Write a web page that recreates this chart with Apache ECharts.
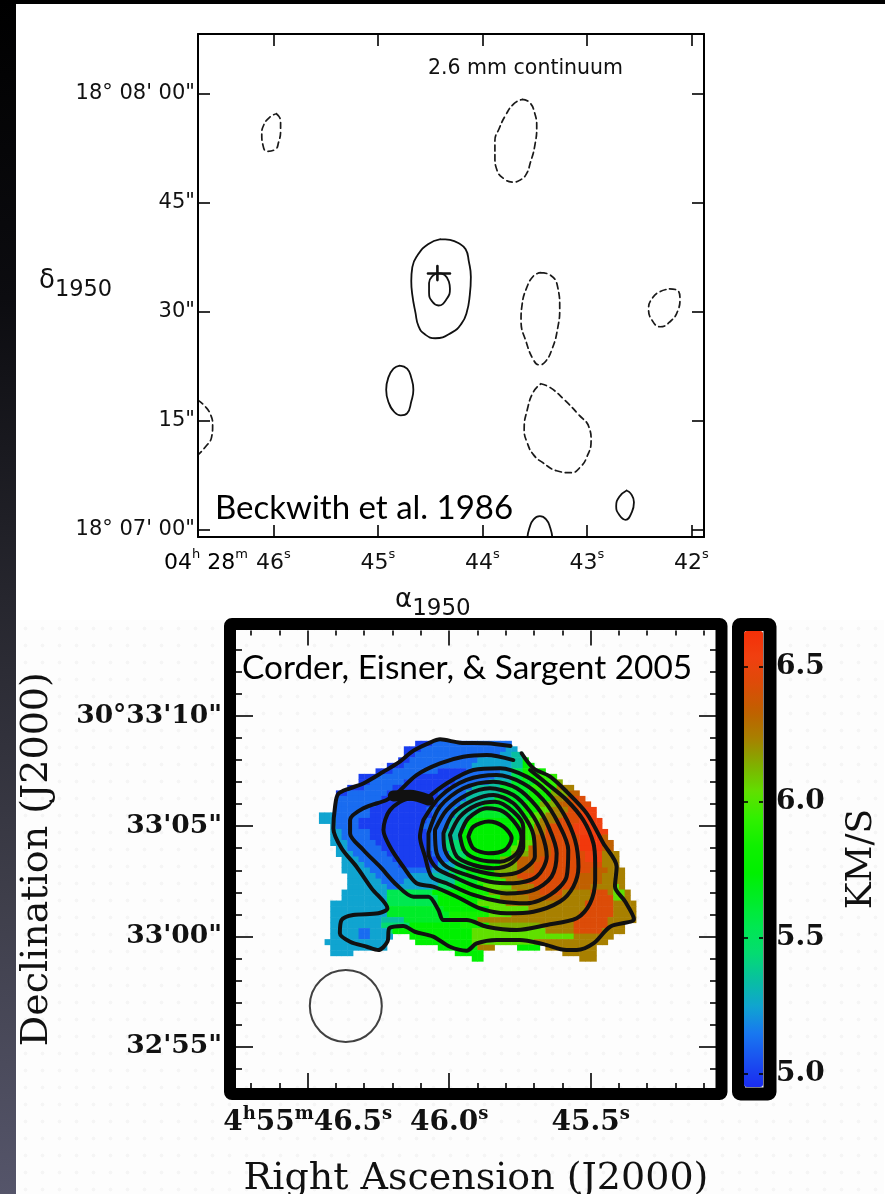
<!DOCTYPE html>
<html><head><meta charset="utf-8">
<style>
html,body{margin:0;padding:0;width:885px;height:1194px;overflow:hidden;background:linear-gradient(180deg,#000 0%,#0c0c10 25%,#26262e 50%,#3e3e4a 75%,#55556a 100%);}
#panel{position:absolute;left:16px;top:4px;width:869px;height:1190px;background:#fff;}
#panel2{position:absolute;left:17px;top:620px;width:867px;height:574px;background-color:#fdfdfd;background-image:radial-gradient(circle,#f5f5f5 1.6px,transparent 2.2px);background-size:17px 17px;}
#c{position:absolute;left:0;top:0;width:885px;height:1194px;}
</style>
<script src="https://cdn.jsdelivr.net/npm/echarts@6/dist/echarts.min.js"></script>
</head><body><div id="panel"></div><div id="panel2"></div><div id="c"></div>
<script>
// ---------- Beckwith et al. 1986: RA seconds (04h 28m), Dec arcsec past 18 deg 07' 00"
const raTicks1950 = [46, 45, 44, 43, 42];
const decTicks1950 = [0, 15, 30, 45, 60];
const decLabels1950 = {0: '18° 07\' 00"', 15: '15"', 30: '30"', 45: '45"', 60: '18° 08\' 00"'};
const dashedA = [[45.97,57.29],[45.93,56.31],[45.93,54.95],[45.95,53.32],[45.98,52.39],[46.06,52.12],[46.10,53.05],[46.11,54.41],[46.09,55.77],[46.03,56.86],[45.97,57.29]];
const dashedB = [[43.62,59.25],[43.55,58.87],[43.50,57.4],[43.48,55.5],[43.50,52.77],[43.54,50.6],[43.58,48.97],[43.64,48.15],[43.71,47.88],[43.79,48.31],[43.86,49.51],[43.88,51.41],[43.88,53.59],[43.84,55.22],[43.78,57.02],[43.70,58.65],[43.62,59.25]];
const solidC = [[44.40,40.04],[44.31,39.93],[44.23,39.5],[44.16,38.63],[44.13,37.0],[44.11,34.82],[44.12,32.37],[44.15,29.92],[44.20,28.4],[44.29,27.2],[44.45,26.39],[44.55,26.93],[44.61,28.02],[44.64,29.92],[44.67,32.37],[44.68,34.28],[44.67,36.18],[44.62,37.81],[44.52,39.34],[44.40,40.04]];
const solidD = [[44.42,35.36],[44.36,35.09],[44.32,34.17],[44.31,33.19],[44.34,31.83],[44.42,30.9],[44.48,31.45],[44.51,32.64],[44.51,34.0],[44.47,35.04],[44.42,35.36]];
const crossH = [[44.52,35.31],[44.31,35.31]];
const crossV = [[44.43,36.34],[44.43,34.39]];
const dashedE = [[43.44,35.42],[43.35,35.09],[43.28,33.46],[43.26,30.47],[43.28,27.75],[43.33,25.03],[43.40,23.12],[43.46,22.74],[43.51,23.39],[43.58,25.84],[43.63,28.84],[43.62,31.01],[43.58,33.19],[43.51,34.98],[43.44,35.42]];
const dashedF = [[42.21,33.19],[42.14,33.03],[42.11,31.83],[42.13,30.2],[42.20,28.73],[42.30,27.97],[42.38,28.94],[42.41,30.47],[42.37,31.99],[42.30,32.81],[42.21,33.19]];
const solidG = [[44.79,22.63],[44.72,22.2],[44.68,20.95],[44.66,19.31],[44.68,17.68],[44.72,16.05],[44.78,15.78],[44.84,16.21],[44.90,17.68],[44.92,19.31],[44.90,20.95],[44.85,22.2],[44.79,22.63]];
const dashedH = [[46.72,17.85],[46.66,17.14],[46.60,15.89],[46.58,14.42],[46.59,12.79],[46.65,11.43],[46.72,10.34]];
const dashedI = [[43.44,20.13],[43.35,19.59],[43.21,17.85],[43.08,15.89],[42.98,14.15],[42.96,12.24],[43.00,10.07],[43.06,8.71],[43.15,7.89],[43.29,8.16],[43.42,9.25],[43.51,10.34],[43.57,11.97],[43.60,13.87],[43.57,16.59],[43.51,19.04],[43.44,20.13]];
const solidJ = [[42.62,5.44],[42.58,5.01],[42.55,3.81],[42.57,2.45],[42.63,1.41],[42.69,2.07],[42.72,3.26],[42.69,4.57],[42.62,5.44]];
const solidK = [[43.57,-1.09],[43.55,0.27],[43.51,1.47],[43.45,1.90],[43.39,1.47],[43.35,0.27],[43.33,-1.09]];

// ---------- Corder, Eisner & Sargent 2005: RA seconds (4h 55m), Dec arcsec past 30 deg 33' 00"
const raMajor2000 = [46.5, 46.0, 45.5];
const raMinor2000 = [46.7,46.6,46.4,46.3,46.2,46.1,45.9,45.8,45.7,45.6,45.4,45.3,45.2,45.1];
const decMajor2000 = [-5, 0, 5, 10];
const decMinor2000 = [-6,-4,-3,-2,-1,1,2,3,4,6,7,8,9,11,12,13];
const decLabels2000 = {'-5': '32\'55"', 0: '33\'00"', 5: '33\'05"', 10: '30°33\'10"'};
const velocityTicks = [5.0, 5.5, 6.0, 6.5];

const mapRaFirst = 46.45, mapRaStep = 0.02, mapDecFirst = 8.75, mapDecStep = 0.25;
// One row per declination step: "firstColumn-lastColumn:velocity (km/s)"
const velocityRows = [
"17-19:5.0 20-33:5.12",
"15-17:5.0 18-32:5.12 33-34:5.25",
"15-16:5.0 17-31:5.12 32-33:5.25 34-35:5.35",
"14-15:5.0 16-27:5.12 28-33:5.25 34-35:5.35 36-36:5.75",
"12-14:5.0 15-26:5.12 27-33:5.25 34-35:5.35 36-37:5.75",
"10-12:5.0 13-20:5.12 21-25:5.0 26-31:5.12 32-33:5.25 34-35:5.55 36-39:5.85",
"7-9:5.0 10-16:5.12 17-24:5.0 25-30:5.12 31-33:5.25 34-35:5.55 36-38:5.85 39-41:5.95",
"7-8:5.0 9-14:5.12 15-23:5.0 24-29:5.12 30-33:5.35 34-37:5.65 38-41:5.95 42-42:6.15",
"5-7:5.0 8-12:5.12 13-22:5.0 23-26:5.12 27-31:5.35 32-36:5.65 37-41:5.95 42-44:6.25",
"3-4:5.0 5-11:5.12 12-20:5.0 21-25:5.12 26-31:5.35 32-36:5.65 37-40:5.85 41-43:6.15 44-45:6.35",
"3-10:5.12 11-20:5.0 21-25:5.12 26-30:5.35 31-36:5.65 37-40:5.85 41-43:6.25 44-46:6.45",
"3-9:5.12 10-20:5.0 21-24:5.12 25-28:5.35 29-35:5.65 36-38:5.85 39-41:6.15 42-44:6.35 45-47:6.45",
"3-8:5.12 9-18:5.0 19-23:5.12 24-27:5.35 28-35:5.65 36-38:5.85 39-40:6.05 41-43:6.25 44-46:6.45 47-48:6.55",
"0-2:5.25 3-8:5.12 9-19:5.0 20-23:5.12 24-26:5.35 27-35:5.65 36-37:5.85 38-39:6.05 40-42:6.25 43-45:6.45 46-48:6.55",
"0-2:5.25 3-6:5.12 7-18:5.0 19-22:5.12 23-25:5.35 26-35:5.75 36-36:5.85 37-38:6.05 39-41:6.25 42-45:6.45 46-49:6.55",
"2-2:5.25 3-6:5.12 7-17:5.0 18-22:5.12 23-25:5.35 26-35:5.75 36-37:5.95 38-39:6.25 40-44:6.45 45-49:6.55",
"2-3:5.25 4-8:5.12 9-18:5.0 19-21:5.12 22-24:5.35 25-35:5.75 36-37:5.95 38-39:6.25 40-44:6.45 45-50:6.55",
"2-3:5.25 4-8:5.12 9-18:5.0 19-21:5.12 22-24:5.35 25-35:5.75 36-37:5.95 38-39:6.35 40-45:6.45 46-49:6.6 50-50:6.35",
"2-4:5.25 5-9:5.12 10-18:5.0 19-21:5.12 22-24:5.45 25-34:5.75 35-37:6.05 38-40:6.35 41-45:6.45 46-49:6.6 50-51:6.35",
"3-4:5.25 5-10:5.12 11-18:5.0 19-21:5.12 22-24:5.45 25-33:5.75 34-36:6.05 37-40:6.35 41-45:6.45 46-49:6.6 50-51:6.35",
"3-5:5.25 6-11:5.12 12-19:5.0 20-22:5.12 23-25:5.45 26-33:5.75 34-36:6.15 37-40:6.35 41-46:6.45 47-49:6.55 50-52:6.25",
"4-6:5.25 7-12:5.12 13-20:5.0 21-22:5.12 23-25:5.55 26-31:5.75 32-34:6.15 35-38:6.35 39-46:6.45 47-49:6.55 50-52:6.25",
"4-7:5.25 8-13:5.12 14-20:5.0 21-23:5.25 24-26:5.55 27-31:5.75 32-34:6.15 35-37:6.35 38-49:6.45 50-52:6.25",
"4-8:5.25 9-19:5.12 20-22:5.25 23-25:5.55 26-30:5.75 31-34:6.15 35-37:6.35 38-47:6.45 48-50:6.35 51-53:6.25",
"5-9:5.25 10-15:5.12 16-19:5.25 20-23:5.35 24-27:5.65 28-31:5.85 32-34:6.25 35-45:6.45 46-49:6.35 50-53:6.25",
"5-10:5.25 11-14:5.12 15-20:5.25 21-23:5.35 24-27:5.65 28-32:5.95 33-35:6.25 36-44:6.45 45-49:6.35 50-53:6.25",
"5-11:5.25 12-13:5.12 14-20:5.25 21-23:5.45 24-28:5.75 29-33:6.05 34-37:6.25 38-44:6.45 45-47:6.35 48-51:6.25 52-52:6.05 53-53:6.25",
"4-11:5.25 12-19:5.55 20-24:5.75 25-29:5.85 30-34:6.15 35-38:6.35 39-42:6.45 43-47:6.25 48-50:6.45 51-51:6.25 52-53:6.05 54-54:6.25",
"4-11:5.25 12-20:5.55 21-27:5.75 28-31:5.95 32-36:6.25 37-42:6.35 43-47:6.25 48-51:6.45 52-53:6.05 54-54:6.25",
"2-11:5.25 12-20:5.55 21-27:5.75 28-32:6.05 33-46:6.25 47-51:6.45 52-55:6.25",
"2-11:5.25 12-21:5.65 22-29:5.75 30-36:6.05 37-46:6.25 47-51:6.45 52-55:6.25",
"2-11:5.25 12-22:5.65 23-29:5.85 30-33:6.05 34-45:6.25 46-51:6.45 52-55:6.25",
"2-10:5.25 11-14:5.35 15-22:5.65 23-27:5.85 28-44:6.25 45-50:6.45 51-55:6.25",
"2-10:5.25 11-15:5.45 16-24:5.75 25-29:5.85 30-38:6.15 39-44:6.25 45-50:6.45 51-53:6.25",
"2-6:5.25 7-8:5.12 9-11:5.25 12-12:5.45 13-26:5.75 27-39:6.05 40-44:6.25 45-49:6.45 50-53:6.25",
"2-6:5.25 7-8:5.12 9-12:5.25 16-26:5.75 27-44:6.05 45-51:6.25",
"1-11:5.25 17-26:5.75 27-37:6.05 38-50:6.25",
"2-11:5.25 21-27:5.75 28-30:6.25 35-38:5.75 40-48:6.25",
"2-5:5.25 24-28:5.75 43-48:6.25",
"27-28:5.75 46-48:6.25"
];
const velocityColors = ['#1a2cf0','#1a50f0','#1878f0','#10a4d0','#08c0a0','#04dc70','#00e850','#00ec28','#00f000','#10f000','#30f000','#60e000','#80b000','#a88000','#c06000','#dc4c08','#f04010','#f43008'];

const contour1 = [[45.783,8.64],[45.867,8.76],[45.962,8.79],[46.032,8.94],[46.073,8.76],[46.126,8.43],[46.174,7.93],[46.232,7.47],[46.303,6.94],[46.350,6.72],[46.392,6.46],[46.403,5.89],[46.409,4.90],[46.380,4.00],[46.327,3.16],[46.274,2.18],[46.218,1.27],[46.250,1.05],[46.339,0.97],[46.380,0.74],[46.386,0.14],[46.350,-0.24],[46.291,-0.47],[46.250,-0.62],[46.218,-0.24],[46.211,0.37],[46.162,0.47],[46.121,0.21],[46.056,-0.01],[45.997,-0.47],[45.938,-0.65],[45.903,-0.32],[45.832,-0.16],[45.750,-0.16],[45.667,-0.35],[45.585,-0.62],[45.549,-0.62],[45.490,-0.32],[45.431,0.44],[45.347,0.79],[45.378,1.58],[45.414,2.26],[45.408,3.16],[45.455,4.22],[45.514,5.58],[45.585,6.57],[45.643,7.25],[45.702,7.63],[45.744,8.31]];
const contour2 = [[45.773,8.00],[45.867,8.23],[45.950,8.15],[46.032,7.85],[46.115,7.32],[46.185,6.49],[46.221,6.19],[46.303,5.81],[46.350,5.28],[46.350,4.68],[46.303,3.92],[46.244,3.16],[46.185,2.33],[46.126,1.80],[46.073,1.80],[46.038,1.20],[46.020,0.74],[45.938,0.74],[45.867,0.44],[45.761,0.29],[45.655,0.52],[45.549,0.82],[45.502,1.50],[45.484,2.56],[45.484,3.31],[45.490,4.22],[45.526,5.28],[45.585,6.19],[45.655,6.94],[45.714,7.55]];
const contour3 = [[46.079,6.26],[46.009,6.94],[45.914,7.55],[45.820,7.63],[45.726,7.25],[45.655,6.57],[45.596,5.58],[45.555,4.37],[45.543,3.16],[45.561,2.26],[45.608,1.58],[45.702,1.12],[45.797,1.05],[45.891,1.27],[45.973,1.80],[46.056,2.26],[46.115,2.41],[46.162,3.16],[46.209,4.07],[46.232,4.83],[46.209,5.73],[46.138,6.26],[46.079,6.26]];
const contour4 = [[46.091,5.28],[46.032,6.34],[45.938,7.10],[45.832,7.32],[45.738,6.94],[45.667,6.19],[45.614,5.13],[45.579,3.92],[45.585,2.71],[45.643,1.88],[45.726,1.50],[45.820,1.58],[45.914,1.88],[46.009,2.41],[46.062,2.71],[46.085,3.62],[46.103,4.52],[46.091,5.28]];
const contour5 = [[46.073,4.68],[46.032,5.89],[45.950,6.72],[45.844,7.02],[45.761,6.72],[45.691,5.89],[45.649,4.98],[45.620,3.77],[45.638,2.71],[45.702,2.10],[45.797,1.95],[45.903,2.26],[45.985,2.71],[46.044,3.09],[46.073,3.77],[46.073,4.68]];
const contour6 = [[46.050,4.83],[46.009,5.73],[45.938,6.42],[45.856,6.72],[45.773,6.42],[45.714,5.66],[45.673,4.68],[45.655,3.62],[45.691,2.71],[45.773,2.41],[45.856,2.48],[45.938,2.79],[46.009,3.16],[46.044,3.77],[46.050,4.83]];
const contour7 = [[46.020,4.68],[45.985,5.58],[45.914,6.19],[45.844,6.42],[45.773,6.04],[45.726,5.28],[45.702,4.60],[45.697,3.62],[45.750,2.94],[45.820,2.79],[45.914,3.01],[45.985,3.39],[46.015,3.92],[46.020,4.68]];
const contour8 = [[45.997,4.60],[45.962,5.43],[45.903,5.96],[45.838,6.11],[45.773,5.66],[45.738,4.98],[45.738,4.07],[45.779,3.31],[45.844,3.09],[45.914,3.24],[45.973,3.62],[45.997,4.60]];
const contour9 = [[45.962,4.60],[45.932,5.36],[45.867,5.81],[45.808,5.66],[45.761,5.05],[45.744,4.52],[45.761,3.77],[45.820,3.39],[45.891,3.47],[45.944,3.84],[45.962,4.60]];
const contour10 = [[45.932,4.52],[45.914,4.98],[45.861,5.21],[45.808,4.98],[45.779,4.45],[45.803,3.92],[45.861,3.77],[45.914,3.99],[45.932,4.52]];
const contourBlob = [[46.197,6.37],[46.138,6.40],[46.073,6.19]];
const beamCentre = [[46.365,-3.158]];

// ---------- decode the map table
const velocityCells = [];
velocityRows.forEach((row, j) => {
  row.split(' ').forEach(run => {
    const [span, v] = run.split(':');
    const [a, b] = span.split('-').map(Number);
    for (let i = a; i <= b; i++) {
      velocityCells.push([+(mapRaFirst - i * mapRaStep).toFixed(3), +(mapDecFirst - j * mapDecStep).toFixed(3), +v]);
    }
  });
});

const ink = '#111';
const sans = 'DejaVu Sans';
const serif = 'DejaVu Serif';
const topLabelRich = {
  n: {fontFamily: sans, fontSize: 22, color: ink, lineHeight: 26, verticalAlign: 'bottom'},
  s: {fontFamily: sans, fontSize: 13, color: ink, verticalAlign: 'top'}
};
const botLabelRich = {
  n: {fontFamily: serif, fontWeight: 'bold', fontSize: 28, color: ink, lineHeight: 32, verticalAlign: 'bottom'},
  s: {fontFamily: serif, fontWeight: 'bold', fontSize: 18, color: ink, verticalAlign: 'top'}
};
const noAxis = {axisLine: {show: false}, axisTick: {show: false}, axisLabel: {show: false}, splitLine: {show: false}};

function tickAxis(gridIndex, position, min, max, inverse, vals, len, extra) {
  return Object.assign({
    type: 'value', gridIndex, position, min, max, inverse, z: 5,
    axisLine: {show: false, onZero: false},
    axisTick: {show: true, inside: true, length: len, customValues: vals, lineStyle: {color: '#000', width: 1.6}},
    axisLabel: {show: false},
    splitLine: {show: false}
  }, extra || {});
}
const topLine = {axisLine: {show: true, onZero: false, lineStyle: {color: '#000', width: 2}}};

const xAxes = [
  tickAxis(0, 'bottom', 41.88, 46.72, true, raTicks1950, 12, Object.assign({}, topLine, {
    axisLabel: {show: true, customValues: raTicks1950, margin: 11, formatter: v => '{n|' + v + '}{s|s}', rich: topLabelRich}
  })),
  tickAxis(0, 'top', 41.88, 46.72, true, raTicks1950, 12, topLine),
  tickAxis(1, 'bottom', 45.057, 46.753, true, raMajor2000, 15, {
    name: 'Right Ascension (J2000)', nameLocation: 'middle', nameGap: 72,
    nameTextStyle: {fontFamily: serif, fontSize: 38, color: ink},
    axisLabel: {show: true, customValues: raMajor2000, margin: 17,
      formatter: v => v === 46.5 ? '{n|4}{s|h}{n|55}{s|m}{n|46.5}{s|s}' : '{n|' + v.toFixed(1) + '}{s|s}', rich: botLabelRich}
  }),
  tickAxis(1, 'top', 45.057, 46.753, true, raMajor2000, 15),
  tickAxis(2, 'bottom', 45.057, 46.753, true, raMinor2000, 5),
  tickAxis(2, 'top', 45.057, 46.753, true, raMinor2000, 5),
  Object.assign({type: 'value', gridIndex: 3, min: 0, max: 1}, noAxis)
];
const yAxes = [
  tickAxis(0, 'left', -0.96, 68.26, false, decTicks1950, 12, Object.assign({}, topLine, {
    axisLabel: {show: true, customValues: decTicks1950, margin: 3, formatter: v => decLabels1950[v],
      fontFamily: sans, fontSize: 21, color: ink}
  })),
  tickAxis(0, 'right', -0.96, 68.26, false, decTicks1950, 12, topLine),
  tickAxis(1, 'left', -6.88, 13.88, false, decMajor2000, 17, {
    name: 'Declination (J2000)', nameLocation: 'middle', nameRotate: 90, nameGap: 180,
    nameTextStyle: {fontFamily: serif, fontSize: 38, color: ink},
    axisLabel: {show: true, customValues: decMajor2000, margin: 14, formatter: v => decLabels2000[v],
      fontFamily: serif, fontWeight: 'bold', fontSize: 26.5, color: ink}
  }),
  tickAxis(1, 'right', -6.88, 13.88, false, decMajor2000, 17),
  tickAxis(2, 'left', -6.88, 13.88, false, decMinor2000, 6),
  tickAxis(2, 'right', -6.88, 13.88, false, decMinor2000, 6),
  tickAxis(3, 'right', 4.952, 6.63, false, velocityTicks, 4, {
    name: 'KM/S', nameLocation: 'middle', nameRotate: 90, nameGap: 81,
    nameTextStyle: {fontFamily: serif, fontSize: 36, color: ink},
    axisLabel: {show: true, customValues: velocityTicks, margin: 13, padding: [5, 0, 0, 0], formatter: v => v.toFixed(1),
      fontFamily: serif, fontWeight: 'bold', fontSize: 28, color: ink}
  }),
  tickAxis(3, 'left', 4.952, 6.63, false, velocityTicks, 4)
];

function contourLine(data, dashed, xi, yi, width, smooth) {
  return {
    type: 'line', data, xAxisIndex: xi, yAxisIndex: yi, showSymbol: false, symbol: 'none', silent: true, z: 3,
    smooth: smooth, animation: false,
    lineStyle: {color: dashed ? '#1a1a1a' : '#111', width, type: dashed ? [6, 4] : 'solid', cap: 'round', join: 'round'}
  };
}

const series = [
  {
    type: 'custom', xAxisIndex: 2, yAxisIndex: 2, data: velocityCells, encode: {x: 0, y: 1}, z: 1, silent: true, animation: false,
    renderItem: (params, api) => {
      const a = api.coord([api.value(0) + mapRaStep / 2, api.value(1) + mapDecStep / 2]);
      const b = api.coord([api.value(0) - mapRaStep / 2, api.value(1) - mapDecStep / 2]);
      return {type: 'rect', shape: {x: a[0], y: a[1], width: b[0] - a[0] + 0.5, height: b[1] - a[1] + 0.5},
        style: {fill: api.visual('color')}};
    }
  }
];
[dashedA, dashedB, dashedE, dashedF, dashedH, dashedI].forEach(d => series.push(contourLine(d, true, 0, 0, 1.7, 0.5)));
[solidC, solidD, solidG, solidJ, solidK].forEach(d => series.push(contourLine(d, false, 0, 0, 1.8, 0.5)));
[crossH, crossV].forEach(d => series.push(contourLine(d, false, 0, 0, 2.6, false)));
[contour1, contour2, contour3, contour4, contour5, contour6, contour7, contour8, contour9, contour10]
  .forEach(d => series.push(contourLine(d, false, 2, 2, 4, 0.3)));
series.push(contourLine(contourBlob, false, 2, 2, 11, 0.3));
series.push({
  type: 'scatter', xAxisIndex: 2, yAxisIndex: 2, data: beamCentre, symbol: 'circle', symbolSize: 72, silent: true, z: 3, animation: false,
  itemStyle: {color: 'rgba(0,0,0,0)', borderColor: '#111', borderWidth: 2}
});

const chart = echarts.init(document.getElementById('c'), null, {renderer: 'canvas', width: 885, height: 1194});
chart.setOption({
  animation: false,
  backgroundColor: 'transparent',
  grid: [
    {left: 198, top: 34, width: 506, height: 503, outerBoundsMode: 'none'},
    {left: 236, top: 630.5, width: 480, height: 457.5, outerBoundsMode: 'none'},
    {left: 236, top: 630.5, width: 480, height: 457.5, outerBoundsMode: 'none'},
    {left: 744, top: 631, width: 19, height: 456, outerBoundsMode: 'none'}
  ],
  xAxis: xAxes,
  yAxis: yAxes,
  series,
  visualMap: {
    type: 'continuous', seriesIndex: 0, dimension: 2, min: 4.95, max: 6.65, show: true, calculable: false, hoverLink: false,
    left: 744, top: 631, itemWidth: 19, itemHeight: 456, padding: 0, z: 1, text: null,
    inRange: {color: velocityColors}
  },
  graphic: [
    {type: 'rect', silent: true, shape: {x: 230, y: 624, width: 491.5, height: 470, r: 2}, style: {fill: 'none', stroke: '#000', lineWidth: 12, lineJoin: 'round'}},
    {type: 'rect', silent: true, shape: {x: 738.5, y: 624.5, width: 31.5, height: 469.5, r: 2}, style: {fill: 'none', stroke: '#000', lineWidth: 13, lineJoin: 'round'}},
    {type: 'text', silent: true, left: 428, top: 58, style: {text: '2.6 mm continuum', fontFamily: sans, fontSize: 20.5, fill: ink}},
    {type: 'text', silent: true, left: 215, top: 492, style: {text: 'Beckwith et al. 1986', fontFamily: 'Lato', fontSize: 33, fill: '#000'}},
    {type: 'text', silent: true, left: 242, top: 652, style: {text: 'Corder, Eisner, & Sargent 2005', fontFamily: 'Lato', fontSize: 33.4, fill: '#000'}},
    {type: 'text', silent: true, left: 164, top: 548, style: {text: '{n|04}{s|h}{n| 28}{s|m}', rich: topLabelRich}},
    {type: 'text', silent: true, left: 39, top: 268, style: {text: '{g|δ}{n|1950}', rich: {
      g: {fontFamily: sans, fontSize: 26, fill: ink, color: ink, verticalAlign: 'top'},
      n: {fontFamily: sans, fontSize: 22.5, fill: ink, color: ink, verticalAlign: 'bottom', lineHeight: 34}}}},
    {type: 'text', silent: true, left: 395, top: 587, style: {text: '{g|α}{n|1950}', rich: {
      g: {fontFamily: sans, fontSize: 26, fill: ink, color: ink, verticalAlign: 'top'},
      n: {fontFamily: sans, fontSize: 23, fill: ink, color: ink, verticalAlign: 'bottom', lineHeight: 34}}}}
  ]
});
</script></body></html>
